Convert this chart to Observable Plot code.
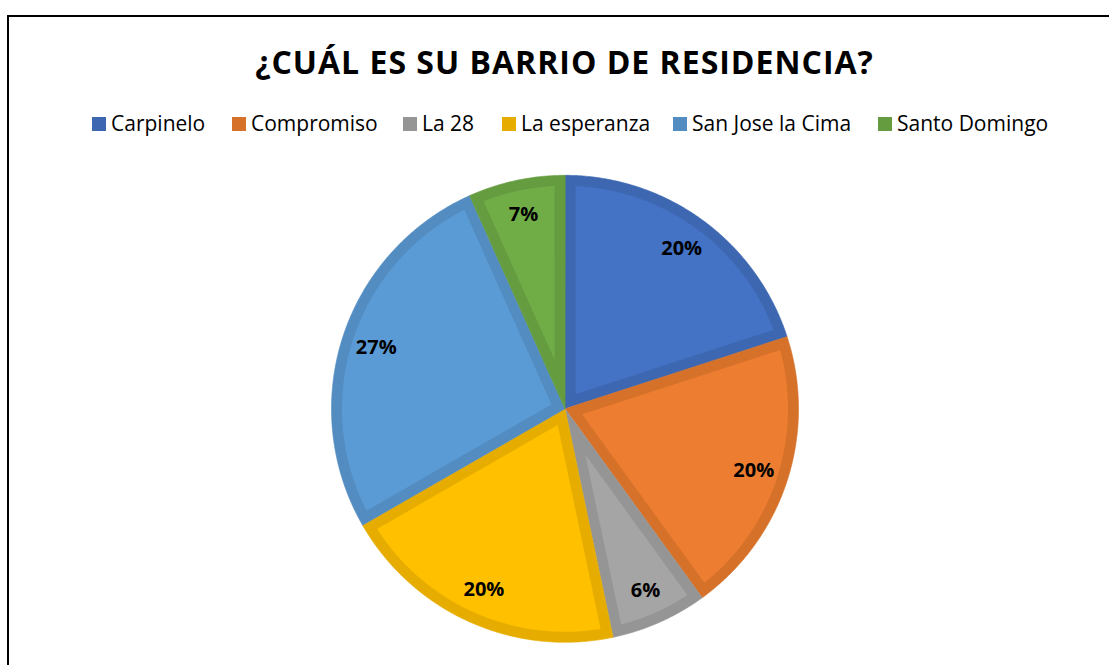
<!DOCTYPE html>
<html><head><meta charset="utf-8">
<script src="https://cdn.jsdelivr.net/npm/d3@7"></script>
<script src="https://cdn.jsdelivr.net/npm/@observablehq/plot@0.6"></script>
<style>
body{margin:0;background:#fff;overflow:hidden;font-family:"Open Sans",sans-serif;color:#000;}
#wrap{position:relative;width:1109px;height:665px;overflow:hidden;}
#frame{position:absolute;left:7px;top:15px;width:1110px;height:700px;border:2px solid #000;box-sizing:border-box;pointer-events:none;}
#head{position:relative;height:160px;}
#title{position:absolute;left:0;width:1129px;top:42px;line-height:40px;text-align:center;font-weight:700;font-size:32px;letter-spacing:1px;white-space:nowrap;}
.sw{position:absolute;top:117px;width:14px;height:14px;}
.lt{position:absolute;top:112px;line-height:22px;font-size:21px;white-space:nowrap;}
#chart svg{display:block;}
</style></head>
<body>
<div id="wrap">
  <div id="head"><div id="title">¿CUÁL ES SU BARRIO DE RESIDENCIA?</div></div>
  <div id="chart"></div>
  <div id="frame"></div>
</div>
<script>
const categories = ["Carpinelo","Compromiso","La 28","La esperanza","San Jose la Cima","Santo Domingo"];
const values = [20, 20, 6.7, 20, 26.6, 6.7];
const labels = ["20%","20%","6%","20%","27%","7%"];
const colors = ["#4472C4","#ED7D31","#A5A5A5","#FFC000","#5B9BD5","#70AD47"];
const borderColors = ["#3D67B0","#D57129","#959595","#E6AD00","#528CC0","#659C40"];
const legendX = [92, 232, 403, 502, 673, 878];

// legend
const head = document.getElementById("head");
categories.forEach((c,i)=>{
  const s=document.createElement("div");s.className="sw";s.style.left=legendX[i]+"px";s.style.background=borderColors[i];head.appendChild(s);
  const t=document.createElement("div");t.className="lt";t.style.left=(legendX[i]+19)+"px";t.textContent=c;head.appendChild(t);
});

// pie geometry (angles clockwise from top)
const pie = d3.pie().sort(null).value(d=>d)(values);
const inset = 0.045;
const step = Math.PI/360;
const outer = [], inner = [], lab = [];
pie.forEach((p,i)=>{
  const name = categories[i];
  const a0 = p.startAngle, a1 = p.endAngle;
  outer.push({name, x:0, y:0});
  for (let a=a0; a<a1; a+=step) outer.push({name, x:Math.sin(a), y:Math.cos(a)});
  outer.push({name, x:Math.sin(a1), y:Math.cos(a1)});
  const th = a1-a0, mid=(a0+a1)/2;
  const R = 1-inset;
  const ap = inset/Math.sin(th/2);
  inner.push({name, x:ap*Math.sin(mid), y:ap*Math.cos(mid)});
  const da = Math.asin(inset/R);
  for (let a=a0+da; a<a1-da; a+=step) inner.push({name, x:R*Math.sin(a), y:R*Math.cos(a)});
  inner.push({name, x:R*Math.sin(a1-da), y:R*Math.cos(a1-da)});
  lab.push({name, text:labels[i], x:0.85*Math.sin(mid), y:0.85*Math.cos(mid)});
});

const marks = [];
categories.forEach((c,i)=>{
  marks.push(Plot.line(outer.filter(d=>d.name===c), {x:"x", y:"y", fill:borderColors[i], stroke:borderColors[i], strokeWidth:0.6, curve:"linear-closed"}));
});
categories.forEach((c,i)=>{
  marks.push(Plot.line(inner.filter(d=>d.name===c), {x:"x", y:"y", fill:colors[i], stroke:"none", curve:"linear-closed"}));
});
marks.push(Plot.text(lab, {x:"x", y:"y", text:"text", fontSize:20, fontWeight:"bold", fill:"#000"}));

const chart = Plot.plot({
  width:1109, height:505,
  marginTop:0, marginBottom:0, marginLeft:0, marginRight:0,
  x:{domain:[-1,1], range:[331,798], axis:null},
  y:{domain:[-1,1], range:[481.8,14.8], axis:null},
  style:{fontFamily:"'Open Sans', sans-serif", background:"transparent"},
  marks
});
document.getElementById("chart").appendChild(chart);
</script>
</body></html>
